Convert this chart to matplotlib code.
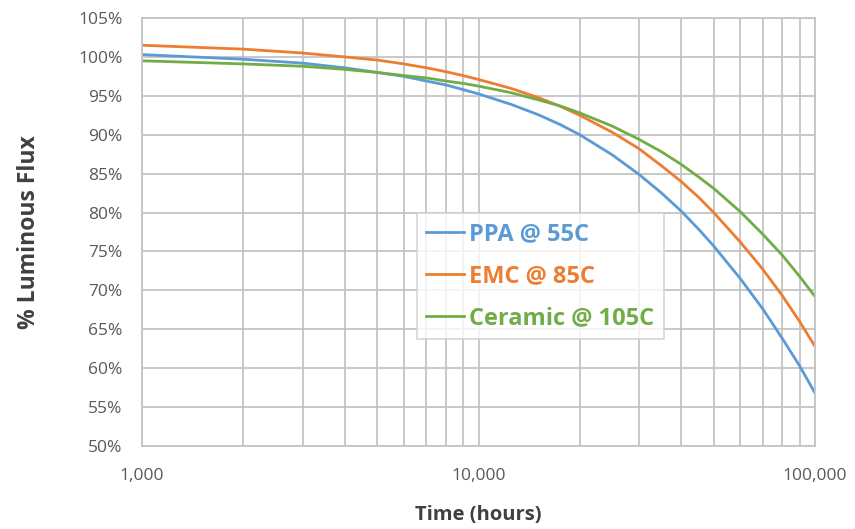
import matplotlib.pyplot as plt
from matplotlib.ticker import FixedLocator, FuncFormatter, NullFormatter

hours = [1000, 2000, 3000, 4000, 5000, 6000, 7000, 8000, 9000, 10000,
         12500, 15000, 17500, 20000, 25000, 30000, 35000, 40000, 45000,
         50000, 60000, 70000, 80000, 90000, 100000]
ppa_55c = [100.3, 99.7, 99.2, 98.6, 98.0, 97.5, 96.9, 96.4, 95.8, 95.25,
           93.9, 92.6, 91.3, 90.0, 87.4, 84.9, 82.5, 80.2, 77.9,
           75.7, 71.5, 67.6, 63.8, 60.3, 56.8]
emc_85c = [101.5, 101.0, 100.5, 100.0, 99.6, 99.1, 98.6, 98.1, 97.6, 97.1,
           95.95, 94.8, 93.65, 92.5, 90.3, 88.2, 86.0, 84.0, 82.0,
           80.0, 76.2, 72.7, 69.3, 66.0, 62.8]
ceramic_105c = [99.5, 99.1, 98.8, 98.4, 98.0, 97.6, 97.3, 96.9, 96.6, 96.25,
                95.4, 94.5, 93.7, 92.8, 91.1, 89.4, 87.8, 86.2, 84.6,
                83.1, 80.1, 77.2, 74.5, 71.8, 69.2]

series = [("PPA @ 55C", ppa_55c, "#5B9BD5"),
          ("EMC @ 85C", emc_85c, "#ED7D31"),
          ("Ceramic @ 105C", ceramic_105c, "#70AD47")]

plt.rcParams['font.family'] = ['Open Sans', 'DejaVu Sans']

fig = plt.figure(figsize=(8.55, 5.29), dpi=100)
ax = fig.add_axes([142 / 855, 1 - 446 / 529, (815 - 142) / 855, (446 - 18) / 529])

for name, vals, col in series:
    ax.plot(hours, vals, color=col, lw=2.0, label=name, solid_joinstyle='round')

ax.set_xscale('log')
ax.set_xlim(1000, 100000)
ax.set_ylim(50, 105)
ax.set_yticks(range(50, 106, 5))
ax.yaxis.set_major_formatter(FuncFormatter(lambda v, p: f"{v:.0f}%"))
ax.xaxis.set_major_locator(FixedLocator([1000, 10000, 100000]))
ax.xaxis.set_major_formatter(FuncFormatter(lambda v, p: f"{v:,.0f}"))
ax.xaxis.set_minor_formatter(NullFormatter())

grid_col = "#C4C4C4"
ax.grid(True, which='major', color=grid_col, lw=1.3)
ax.grid(True, which='minor', axis='x', color=grid_col, lw=1.3)
ax.set_axisbelow(True)
for s in ax.spines.values():
    s.set_color(grid_col)
    s.set_linewidth(1.3)
ax.tick_params(which='both', length=0, labelsize=12.5, labelcolor="#595959")
ax.tick_params(axis='x', pad=16)
ax.tick_params(axis='y', pad=14)

ax.set_xlabel("Time (hours)", fontsize=14.5, fontweight='bold', color="#404040", labelpad=15)
ax.set_ylabel("% Luminous Flux", fontsize=16.5, fontweight='bold', color="#404040", labelpad=27)

leg = ax.legend(loc='upper left', bbox_to_anchor=((417 - 142) / 673, (446 - 213) / 428),
                borderaxespad=0, frameon=True, fancybox=False, fontsize=17,
                handlelength=1.6, handletextpad=0.2, labelspacing=0.75, borderpad=0.4)
leg.get_frame().set_edgecolor("#D0D0D0")
leg.get_frame().set_linewidth(1.3)
for txt, (_, _, col) in zip(leg.get_texts(), series):
    txt.set_color(col)
    txt.set_fontweight('bold')

fig.savefig('out.png', dpi=100)
